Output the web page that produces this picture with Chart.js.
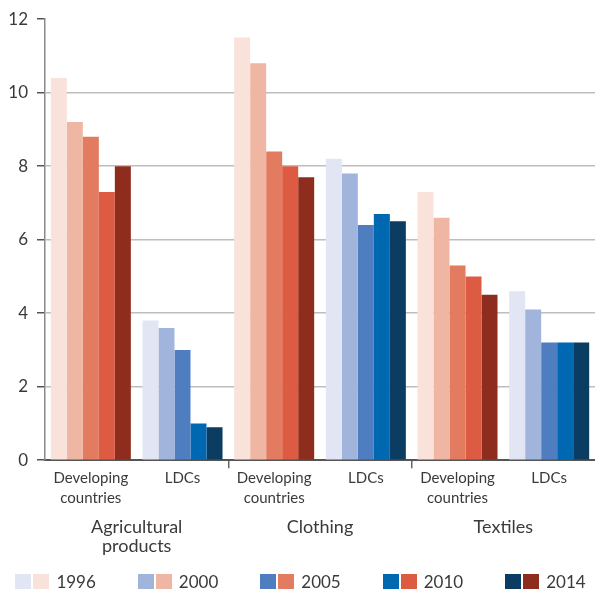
<!DOCTYPE html>
<html>
<head>
<meta charset="utf-8">
<script src="https://cdn.jsdelivr.net/npm/chart.js@4.4.1/dist/chart.umd.min.js"></script>
<style>
  html, body { margin: 0; padding: 0; background: #fff; }
  #wrap { position: relative; width: 595px; height: 592px; }
  #legend {
    position: absolute; left: 3px; top: 574px; width: 595px;
    display: flex; justify-content: center;
    font-family: Lato, "Noto Sans", sans-serif; font-weight: 400; font-size: 17px; color: #3a3a3a;
  }
  .item { display: flex; align-items: center; margin: 0 21px; }
  .sw { width: 16px; height: 15px; margin-right: 2px; }
  .item span { margin-left: 5px; line-height: 15px; }
</style>
</head>
<body>
<div id="wrap">
  <canvas id="chart" width="595" height="592"></canvas>
  <div id="legend"></div>
</div>
<script>
// bar order in each year: Agri dev, Agri LDC, Clothing dev, Clothing LDC, Textiles dev, Textiles LDC
var subLabels = [['Developing', 'countries'], 'LDCs', ['Developing', 'countries'], 'LDCs', ['Developing', 'countries'], 'LDCs'];
var groupLabels = [['Agricultural', 'products'], 'Clothing', 'Textiles'];
var years = ['1996', '2000', '2005', '2010', '2014'];

var v1996 = [10.4, 3.8, 11.5, 8.2, 7.3, 4.6];
var v2000 = [9.2, 3.6, 10.8, 7.8, 6.6, 4.1];
var v2005 = [8.8, 3.0, 8.4, 6.4, 5.3, 3.2];
var v2010 = [7.3, 1.0, 8.0, 6.7, 5.0, 3.2];
var v2014 = [8.0, 0.9, 7.7, 6.5, 4.5, 3.2];

var yTicks = [0, 2, 4, 6, 8, 10, 12];

var redColors = ['#f8e2d9', '#efb6a3', '#e27b5f', '#de5b43', '#8e2c1e'];
var blueColors = ['#e2e5f4', '#a0b4dc', '#4e7ebf', '#0067b1', '#0b3d62'];

var allValues = [v1996, v2000, v2005, v2010, v2014];
var font = 'Lato, "Noto Sans", sans-serif';

var datasets = [];
years.forEach(function (yr, i) {
    datasets.push({
        label: yr,
        data: allValues[i],
        backgroundColor: allValues[i].map(function (v, j) {
            return j % 2 === 0 ? redColors[i] : blueColors[i];
        }),
        borderWidth: 0,
        categoryPercentage: 0.873,
        barPercentage: 1
    });
});

new Chart(document.getElementById('chart'), {
    type: 'bar',
    data: {
        labels: subLabels,
        datasets: datasets
    },
    options: {
        responsive: false,
        animation: false,
        layout: { padding: { top: 18, right: 0, bottom: 27, left: 0 } },
        plugins: {
            legend: { display: false },
            tooltip: { enabled: false }
        },
        scales: {
            x: {
                weight: 0,
                grid: {
                    offset: true,
                    drawOnChartArea: false,
                    drawTicks: true,
                    tickLength: 8,
                    lineWidth: 1.5,
                    color: function (ctx) {
                        return (ctx.index === 2 || ctx.index === 4) ? '#666' : 'rgba(0,0,0,0)';
                    }
                },
                border: { display: true, color: '#555', width: 2 },
                ticks: {
                    autoSkip: false,
                    maxRotation: 0,
                    padding: 0,
                    color: '#3a3a3a',
                    font: { family: font, size: 15, weight: 400, lineHeight: 1.33 }
                }
            },
            x2: {
                type: 'category',
                labels: groupLabels,
                position: 'bottom',
                weight: 1,
                grid: { display: false, drawTicks: false },
                border: { display: false },
                ticks: {
                    autoSkip: false,
                    maxRotation: 0,
                    padding: 9,
                    color: '#3a3a3a',
                    font: { family: font, size: 18, weight: 400, lineHeight: 1.08 }
                }
            },
            y: {
                min: 0,
                max: 12,
                afterFit: function (scale) { scale.width = 45; },
                afterBuildTicks: function (scale) {
                    scale.ticks = yTicks.map(function (v) { return { value: v }; });
                },
                grid: {
                    drawTicks: true,
                    tickLength: 8,
                    lineWidth: 1.5,
                    tickColor: '#555',
                    color: function (ctx) {
                        return (ctx.tick && ctx.tick.value === 12) ? 'rgba(0,0,0,0)' : '#bdbdbd';
                    }
                },
                border: { display: true, color: '#8a8a8a', width: 1.5 },
                ticks: {
                    padding: 9,
                    color: '#3a3a3a',
                    font: { family: font, size: 17, weight: 400 }
                }
            }
        }
    }
});

// legend: paired swatches, blue (LDCs) then red (developing)
var legend = document.getElementById('legend');
years.forEach(function (yr, i) {
    var item = document.createElement('div');
    item.className = 'item';
    item.innerHTML = '<div class="sw" style="background:' + blueColors[i] + '"></div>' +
        '<div class="sw" style="background:' + redColors[i] + '"></div>' +
        '<span>' + yr + '</span>';
    legend.appendChild(item);
});
</script>
</body>
</html>
